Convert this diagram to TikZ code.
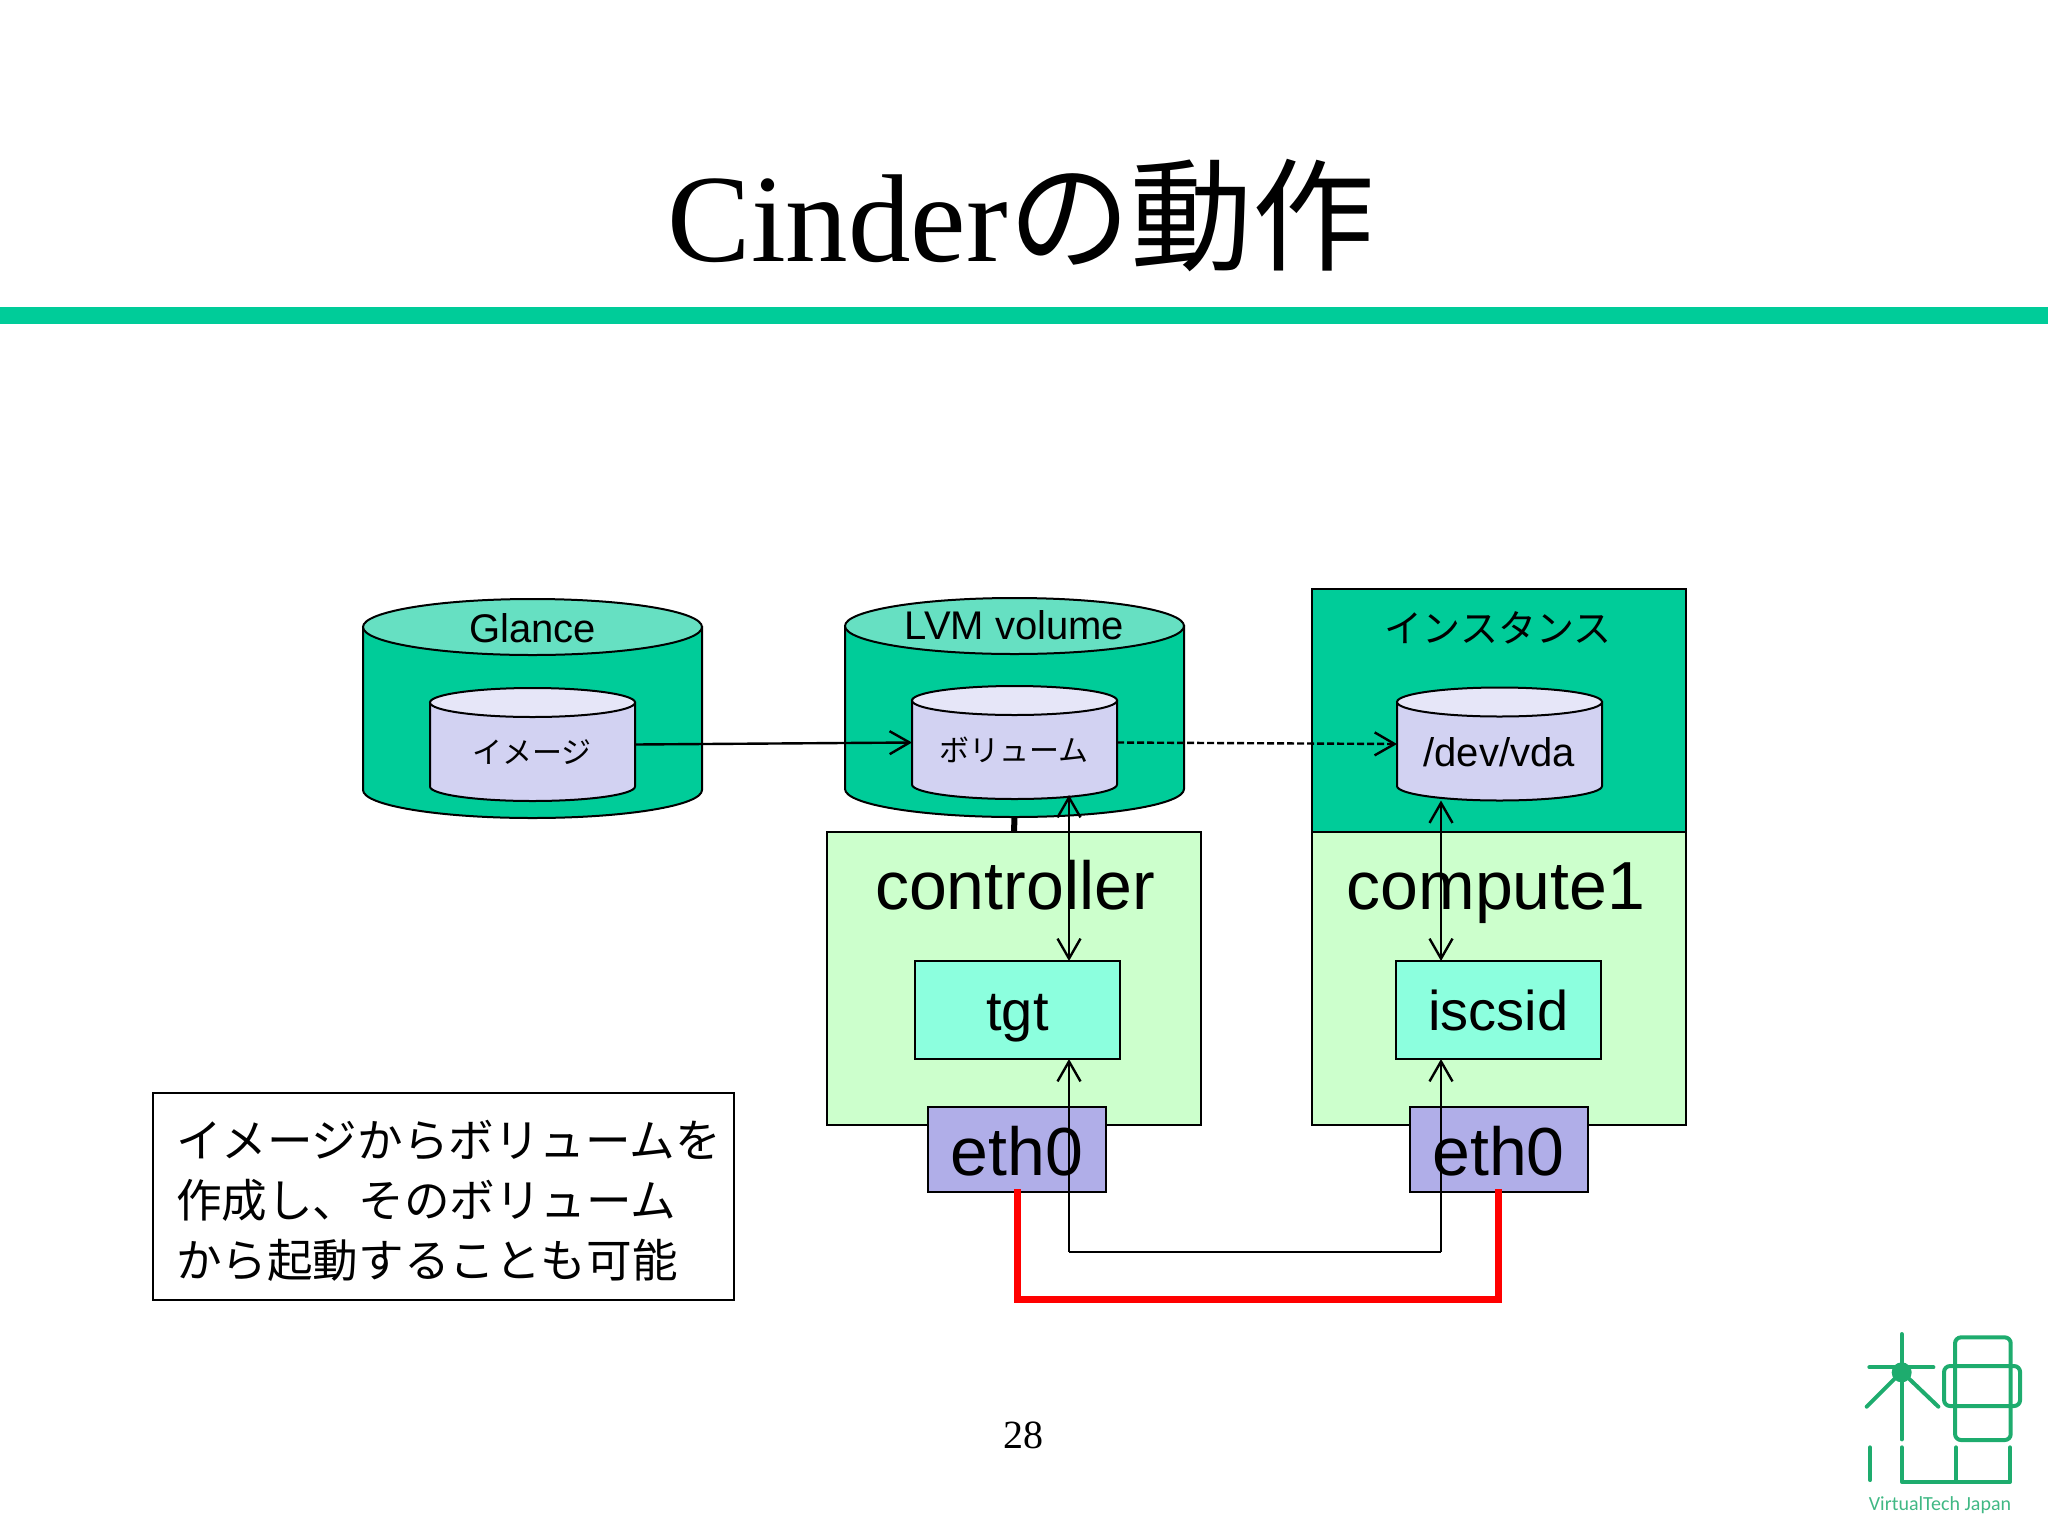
\documentclass[tikz,border=0pt]{standalone}
\usepackage{fontspec}
\setmainfont{Liberation Sans}
\newfontfamily\jpfont{Noto Sans CJK JP}
\newfontfamily\serfont{Liberation Serif}
\newfontfamily\logofont{Carlito}
\usetikzlibrary{arrows.meta}

% Colors
\definecolor{barcol}{RGB}{0,204,153}
\definecolor{disktop}{RGB}{102,224,194}
\definecolor{volbody}{RGB}{210,210,242}
\definecolor{voltop}{RGB}{230,230,248}
\definecolor{hostcol}{RGB}{204,255,204}
\definecolor{daemoncol}{RGB}{140,255,222}
\definecolor{nicol}{RGB}{176,174,232}
\definecolor{logocol}{RGB}{30,172,110}

\tikzset{
  every node/.style={inner sep=0pt, outer sep=0pt},
  hostbox/.style={draw, line width=1pt, fill=hostcol, minimum width=187pt, minimum height=146.5pt},
  daemon/.style={draw, line width=1pt, fill=daemoncol, minimum width=102.5pt, minimum height=49pt,
    text height=24pt, text depth=4pt, font=\fontsize{28}{32}\selectfont},
  nic/.style={draw, line width=1pt, fill=nicol, minimum width=89pt, minimum height=42.5pt,
    text height=30pt, text depth=4pt, font=\fontsize{34}{38}\selectfont},
  small/.style={font=\fontsize{20}{24}\selectfont, anchor=base},
  big/.style={font=\fontsize{34}{38}\selectfont, anchor=base},
  voltext/.style={font=\jpfont\fontsize{15}{18}\selectfont},
  link/.style={line width=1.2pt, {Straight Barb[length=10pt,width=11.5pt]}-{Straight Barb[length=10pt,width=11.5pt]}},
  uplink/.style={line width=1.2pt, -{Straight Barb[length=10pt,width=11.5pt]}},
  logoline/.style={draw=logocol, line width=2pt, line cap=round, line join=round},
}

% name, centre, half width, half height, end radius, body colour, top colour
\newcommand{\drum}[7]{
    \node[minimum width=2*#3, minimum height=2*#4] (#1) at (#2) {};
    \draw[line width=1pt, fill=#6] ([yshift=-#5]#1.north west) -- ([yshift=#5]#1.south west)
        arc[start angle=180, end angle=360, x radius=#3, y radius=#5]
        -- ([yshift=-#5]#1.north east) -- cycle;
    \draw[line width=1pt, fill=#7] ([yshift=-#5]#1.north) ellipse[x radius=#3, y radius=#5];
}

\begin{document}
\begin{tikzpicture}[x=0.5pt,y=-0.5pt]
    \useasboundingbox (0,0) rectangle (2048,1536);

    % Title and bar
    \node[anchor=base, font=\fontsize{62.5}{70}\selectfont] (title) at (1021.5,261) {\serfont Cinder\jpfont\fontsize{61.2}{70}\selectfont の動作};
    \fill[barcol] (0,307) rectangle (2048,324);

    % Instance box
    \node[draw, line width=1pt, fill=barcol, minimum width=187pt, minimum height=121.5pt] (instance) at (1499,710.5) {};
    \node[font=\jpfont\fontsize{19}{24}\selectfont] (instancelabel) at (1498,628) {インスタンス};

    % Disks
    \drum{glance}{532.5,708.5}{84.75pt}{54.75pt}{14pt}{barcol}{disktop}
    \drum{lvm}{1014.5,707.5}{84.75pt}{54.75pt}{14pt}{barcol}{disktop}
    \node[small] (glancelabel) at (532.5,642) {Glance};
    \node[small] (lvmlabel) at (1014.5,639) {LVM volume};

    % Volumes
    \drum{image}{532.5,744.5}{51.25pt}{28.25pt}{7.25pt}{volbody}{voltop}
    \drum{volume}{1014.5,742.5}{51.25pt}{28.25pt}{7.25pt}{volbody}{voltop}
    \drum{vda}{1499.5,744}{51.25pt}{28.25pt}{7.25pt}{volbody}{voltop}
    \node[voltext] (imagelabel) at (532,752) {イメージ};
    \node[voltext] (volumelabel) at (1014,750) {ボリューム};
    \node[small] (vdalabel) at (1499,766) {/dev/vda};

    % Hosts
    \node[hostbox] (controller) at (1014,978.5) {};
    \node[hostbox] (compute) at (1499,978.5) {};
    \node[big] (controllerlabel) at (1015,909) {controller};
    \node[big] (computelabel) at (1496,909) {compute1};
    \draw[line width=3pt] (lvm.south) -- (controller.north);

    % Daemons and interfaces
    \node[daemon] (tgt) at (1017.5,1010) {tgt};
    \node[daemon] (iscsid) at (1498.5,1010) {iscsid};
    \node[nic] (ethleft) at (1017,1149.5) {eth0};
    \node[nic] (ethright) at (1498.5,1149.5) {eth0};

    % Note
    \node[draw, line width=1pt, minimum width=290.5pt, minimum height=103.5pt, text width=267.5pt,
      inner xsep=11.5pt, align=left, font=\jpfont\fontsize{22.8}{30}\selectfont] (note) at (443.5,1196.5)
      {\rule{0pt}{23pt}イメージからボリュームを\\作成し、そのボリューム\\から起動することも可能};

    % Page number
    \node[font=\serfont\fontsize{20}{24}\selectfont] (page) at (1023,1435) {28};

    % Connectors
    \coordinate (busleft) at (1069,1252);
    \coordinate (busright) at (1441,1252);
    \draw[line width=3.5pt, red, line cap=rect] (ethleft.south) |- (1258,1299) -| (ethright.south);
    \draw[uplink] (image.east) -- (volume.west);
    \draw[uplink, dash pattern=on 3.5pt off 1.5pt] (volume.east) -- (vda.west);
    \draw[link] ([yshift=2pt]volume.south -| busleft) -- (tgt.north -| busleft);
    \draw[link] (vda.south -| busright) -- (iscsid.north -| busright);
    \draw[uplink] (busleft) -- (tgt.south -| busleft);
    \draw[uplink] (busright) -- (iscsid.south -| busright);
    \draw[line width=1.2pt] (busleft) -- (busright);

    % Logo
    \begin{scope}[shift={(1820,1310)},x=0.1667pt,y=-0.1667pt]
        \draw[logoline] (245,72) -- (245,388);
        \draw[logoline] (148,172) -- (340,172);
        \draw[logoline] (140,290) -- (245,185) -- (355,290);
        \fill[logocol] (245,187) circle (30);
        \draw[logoline, rounded corners=3pt] (405,82) rectangle (572,390);
        \draw[logoline, rounded corners=3pt] (372,168) rectangle (600,288);
        \draw[logoline] (150,412) -- (150,510);
        \draw[logoline] (245,412) -- (245,515) -- (570,515) -- (570,412);
        \draw[logoline] (408,412) -- (408,515);
    \end{scope}
    \node[anchor=base, text=logocol!85, font=\logofont\fontsize{10}{12}\selectfont] (logotext) at (1940,1510) {VirtualTech Japan};

\end{tikzpicture}
\end{document}
